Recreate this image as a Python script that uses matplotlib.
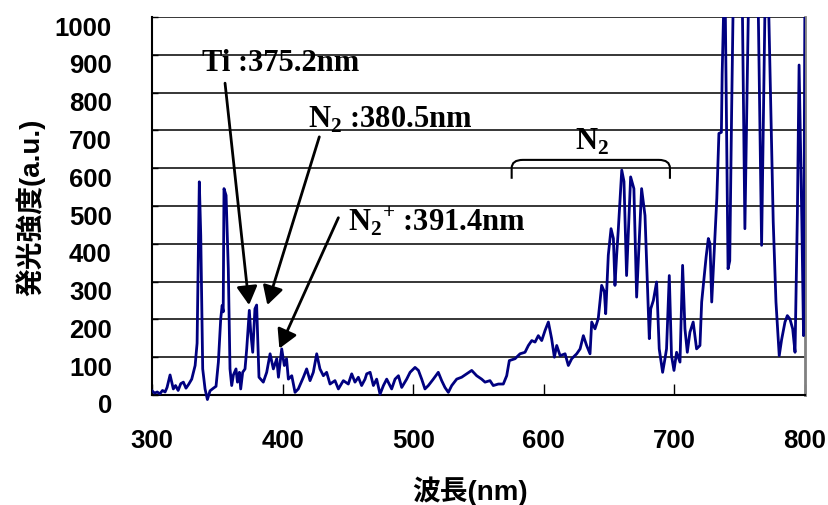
import matplotlib
matplotlib.use("Agg")
import matplotlib.pyplot as plt
import matplotlib.patches as mpatches
import matplotlib.transforms as mtransforms
from matplotlib.path import Path

plt.rcParams['mathtext.fontset'] = 'custom'
plt.rcParams['mathtext.rm'] = 'Liberation Serif:bold'
plt.rcParams['mathtext.bf'] = 'Liberation Serif:bold'

# spectrum (wavelength nm, intensity a.u.)
wavelength = [
    300, 302, 304, 306, 308, 310, 311.5, 313.8, 316.3, 318, 320, 322, 324, 326, 328,
    330.4, 333, 334.5, 336.2, 337.3, 338.8, 340.6, 342.4, 344.4, 347, 349, 350.8,
    352.6, 353.7, 354.5, 355.1, 356.7, 358.4, 359.7, 361, 362.3, 364.3, 365.4, 366.9,
    367.9, 369.4, 371.2, 372.5, 374.5, 375.6, 377.1, 378.8, 380.1, 381.9, 385.2,
    387.8, 390.4, 392.9, 395.5, 396.8, 399.3, 401.3, 403, 404.4, 407, 409.5, 412,
    415.9, 418.4, 421, 423.5, 426.1, 428.6, 431.2, 433.7, 436.3, 440.1, 442.7, 446.5,
    450.3, 452.9, 455.4, 458, 460.5, 463.1, 464.4, 467, 469.5, 472, 474.6, 477.2,
    479.7, 483.5, 486.1, 488.7, 491.2, 495, 497.6, 501.4, 504, 506.5, 509, 511.6,
    515.4, 519.2, 521.8, 524.3, 526.9, 529.5, 533.3, 537.1, 541, 544.8, 548.6, 552.4,
    555, 558.8, 561.3, 565.2, 569, 571.6, 573.6, 578, 581.8, 585.6, 588.2, 590.8,
    593.3, 595.8, 598.4, 601, 603.5, 606, 608.1, 609.9, 612.5, 616.3, 618.8, 621.4,
    625.2, 627.8, 630.3, 632.8, 635.4, 636.7, 639.2, 641.7, 644.3, 646.4, 647.4,
    649.4, 651.5, 653.3, 654.5, 655.8, 657.1, 659.7, 661.4, 663.4, 666.5, 669, 671.1,
    674.9, 677.5, 680.8, 681.9, 683.9, 686.4, 688.4, 691, 692.8, 694, 696.1, 697.8,
    699.7, 701.7, 704.3, 706.3, 708.1, 709.9, 711.9, 714.4, 717, 719.6, 720.9, 722.7,
    724.3, 726, 727.3, 728.6, 730.7, 732.5, 734.1, 736, 736.6, 738.6, 741.1, 742.4,
    743.8, 745.5, 748.5, 751.5, 754, 757.5, 760.5, 763.5, 766.8, 770.5, 775.7, 777.8,
    780.3, 782.1, 784.7, 786.5, 788.5, 790.6, 792.4, 794.2, 795.5, 797.6, 798.9, 800,
]
intensity = [
    11, 5, 8, 3, 12, 8, 20, 53, 16, 25, 12, 30, 34, 18, 28,
    42, 78, 137, 564, 422, 69, 16, -12, 11, 18, 23, 87,
    202, 237, 220, 546, 528, 334, 69, 25, 53, 69, 34, 60,
    16, 60, 69, 122, 224, 165, 113, 228, 238, 47, 34,
    60, 109, 69, 96, 47, 122, 78, 96, 42, 51, 7, 16,
    47, 69, 38, 60, 109, 69, 51, 60, 29, 38, 16, 38,
    29, 56, 34, 47, 25, 42, 56, 60, 25, 42, 2, 25,
    42, 16, 42, 51, 20, 42, 60, 73, 65, 42, 16, 25,
    42, 60, 38, 20, 7, 25, 42, 47, 56, 65, 51, 42,
    34, 38, 25, 29, 29, 51, 91, 96, 109, 113, 131, 144,
    140, 157, 144, 171, 193, 149, 100, 131, 104, 109, 78, 96,
    109, 122, 157, 131, 109, 193, 175, 202, 290, 273, 215,
    370, 440, 414, 290, 370, 440, 595, 565, 316, 577, 546, 259,
    546, 475, 149, 228, 250, 299, 122, 60, 96, 122, 316, 104,
    65, 113, 87, 343, 175, 113, 166, 193, 122, 131, 246, 308,
    365, 414, 400, 246, 396, 520, 692, 695, 850, 1150, 334, 355,
    740, 1150, 1050, 1200, 440, 1200, 1100, 1200, 396, 1300, 458, 246,
    104, 146, 193, 210, 201, 175, 113, 480, 873, 462, 157, 1100,
]

x_ticks = [300, 400, 500, 600, 700, 800]
y_ticks = [0, 100, 200, 300, 400, 500, 600, 700, 800, 900, 1000]

jp = ['Liberation Sans', 'Noto Sans CJK JP']
serif = ['Liberation Serif', 'Noto Sans CJK JP']

fig = plt.figure(figsize=(8.29, 5.06), dpi=100)
ax = fig.add_axes([0.1834, 0.2174, 0.971 - 0.1834, 0.9644 - 0.2174])

for y in y_ticks[1:]:
    ax.axhline(y, color='black', lw=1.1, zorder=1)

line, = ax.plot(wavelength, intensity, color='#000080', lw=2, zorder=3)
# let the dip below zero show, but clip the big peaks at the top
line.set_clip_path(mpatches.Rectangle((0, -0.03), 1, 1.03, transform=ax.transAxes))

ax.set_xlim(300, 800)
ax.set_ylim(0, 1000)
ax.set_xticks(x_ticks)
ax.set_yticks(y_ticks)
ax.set_xticklabels([str(v) for v in x_ticks], fontsize=18.5, fontweight='bold', family='Liberation Sans')
ax.set_yticklabels([str(v) for v in y_ticks], fontsize=18.5, fontweight='bold', family='Liberation Sans')
ax.tick_params(axis='x', direction='in', length=8, width=1, pad=24)
ax.tick_params(axis='y', direction='in', length=4, width=1, pad=29)

# Excel puts the y labels a little below their gridline
off = mtransforms.ScaledTranslation(0, -8 / 100, fig.dpi_scale_trans)
for lab in ax.get_yticklabels():
    lab.set_transform(lab.get_transform() + off)

ax.spines['left'].set_linewidth(1.5)
ax.spines['bottom'].set_linewidth(1.5)
ax.spines['right'].set_color('#808080')
ax.spines['right'].set_linewidth(2)
ax.spines['top'].set_visible(False)

ax.set_xlabel('波長(nm)', fontsize=20, fontweight='bold', family=jp)
ax.xaxis.set_label_coords(0.487, -0.212)
ax.set_ylabel('発光強度(a.u.)', fontsize=20, fontweight='bold', family=jp)
ax.yaxis.set_label_coords(-0.164, 0.5)

# peak labels with arrows
ax.text(338, 861, 'Ti :375.2nm', fontsize=22, fontweight='bold', family=serif, va='baseline')
ax.text(419.5, 709, r'N$_{\mathrm{2}}$ :380.5nm', fontsize=22, fontweight='bold', family=serif, va='baseline')
ax.text(450, 438, r'N$_{\mathrm{2}}$$^{\mathrm{+}}$ :391.4nm', fontsize=22, fontweight='bold', family=serif, va='baseline')

arrow_style = dict(arrowstyle='-|>,head_length=0.45,head_width=0.25', lw=2, color='black',
                   mutation_scale=25, shrinkA=0, shrinkB=0)
ax.annotate('', xy=(374.3, 238), xytext=(355.9, 825), arrowprops=arrow_style)
ax.annotate('', xy=(388.3, 238), xytext=(428.1, 683), arrowprops=arrow_style)
ax.annotate('', xy=(397.5, 123), xytext=(442.7, 469), arrowprops=arrow_style)

# bracket over the N2 band
verts = [(575.4, 572), (575.4, 600), (575.4, 622), (584, 622), (688, 622),
         (696.6, 622), (696.6, 600), (696.6, 572)]
codes = [Path.MOVETO, Path.LINETO, Path.CURVE3, Path.CURVE3, Path.LINETO,
         Path.CURVE3, Path.CURVE3, Path.LINETO]
ax.add_patch(mpatches.PathPatch(Path(verts, codes), facecolor='none', edgecolor='black', lw=1.5, zorder=4))
ax.text(637, 651, r'N$_{\mathrm{2}}$', fontsize=22, fontweight='bold', family=serif, ha='center', va='baseline')

plt.savefig('out.png', dpi=100)
